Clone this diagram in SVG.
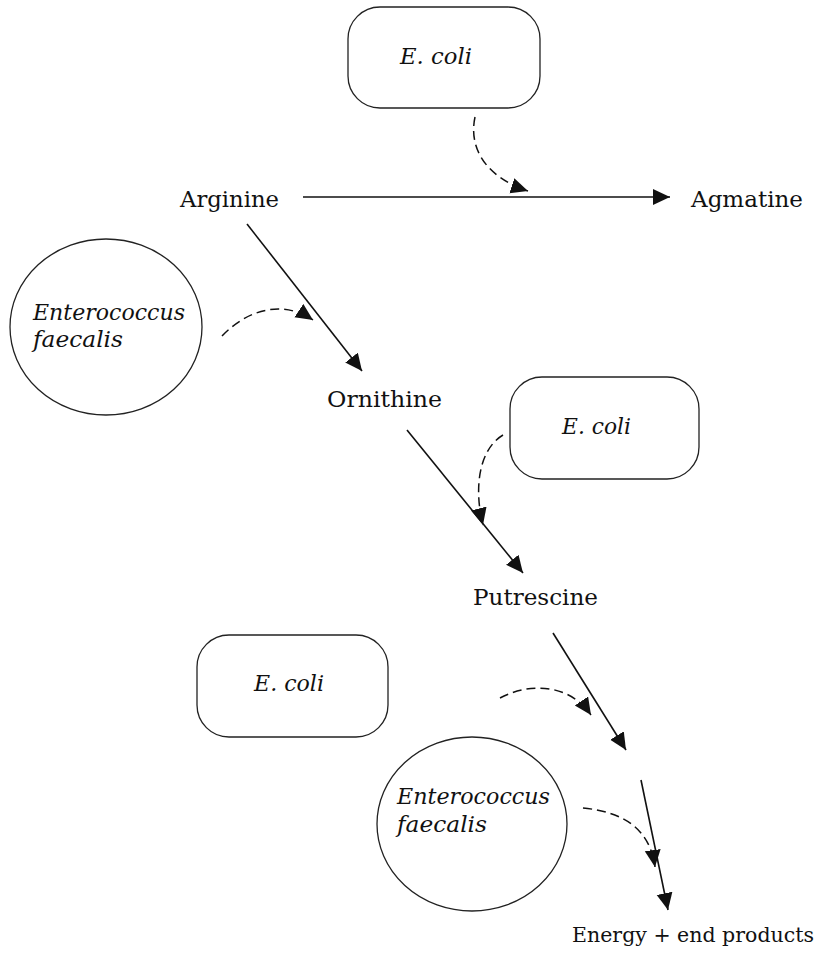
<svg xmlns="http://www.w3.org/2000/svg" width="822" height="954" viewBox="0 0 822 954">
<style>
.bg{fill:#fff}
.shape{fill:#fff;stroke:#222;stroke-width:1.3}
.t{font-family:"DejaVu Serif","Liberation Serif",serif;font-size:22.5px;fill:#111}
.i{font-style:italic}
.solid{fill:none;stroke:#111;stroke-width:1.6}
.dash{fill:none;stroke:#111;stroke-width:1.5;stroke-dasharray:9 5}
</style>
<defs>
<marker id="ah" markerUnits="userSpaceOnUse" markerWidth="20" markerHeight="18" refX="17" refY="8" orient="auto">
<path d="M0,0 L17,8 L0,16 Z" fill="#111"/>
</marker>
</defs>
<rect class="bg" x="0" y="0" width="822" height="954"/>
<g id="connectors">
<line class="solid" x1="303" y1="197" x2="670" y2="197" marker-end="url(#ah)"/>
<line class="solid" x1="247" y1="224" x2="362" y2="371" marker-end="url(#ah)"/>
<line class="solid" x1="407" y1="430" x2="523" y2="573" marker-end="url(#ah)"/>
<line class="solid" x1="553" y1="633" x2="626" y2="750" marker-end="url(#ah)"/>
<line class="solid" x1="641" y1="780" x2="668" y2="910" marker-end="url(#ah)"/>
<path class="dash" d="M475,117 C468,150 488,178 528,191" marker-end="url(#ah)"/>
<path class="dash" d="M222,336 C245,312 280,298 313,320" marker-end="url(#ah)"/>
<path class="dash" d="M503,435 C478,450 474,490 483,525" marker-end="url(#ah)"/>
<path class="dash" d="M500,698 C530,682 570,684 591,715" marker-end="url(#ah)"/>
<path class="dash" d="M583,808 C625,812 650,830 655,867" marker-end="url(#ah)"/>
</g>
<g id="ecoli-top">
<rect class="shape" x="348" y="7" width="192" height="101" rx="32"/>
<text class="t i" x="400" y="64" textLength="72" lengthAdjust="spacingAndGlyphs">E. coli</text>
</g>
<g id="arginine"><text class="t" x="180" y="207" textLength="99" lengthAdjust="spacingAndGlyphs">Arginine</text></g>
<g id="agmatine"><text class="t" x="691" y="207" textLength="112" lengthAdjust="spacingAndGlyphs">Agmatine</text></g>
<g id="efaecalis-top">
<ellipse class="shape" cx="106" cy="327" rx="96" ry="88"/>
<text class="t i" x="33" y="320" textLength="152" lengthAdjust="spacingAndGlyphs">Enterococcus</text>
<text class="t i" x="33" y="347" textLength="90" lengthAdjust="spacingAndGlyphs">faecalis</text>
</g>
<g id="ornithine"><text class="t" x="327" y="407" textLength="115" lengthAdjust="spacingAndGlyphs">Ornithine</text></g>
<g id="ecoli-mid">
<rect class="shape" x="510" y="377" width="189" height="102" rx="32"/>
<text class="t i" x="562" y="434" textLength="69" lengthAdjust="spacingAndGlyphs">E. coli</text>
</g>
<g id="putrescine"><text class="t" x="473" y="605" textLength="125" lengthAdjust="spacingAndGlyphs">Putrescine</text></g>
<g id="ecoli-bottom">
<rect class="shape" x="197" y="635" width="191" height="102" rx="32"/>
<text class="t i" x="254" y="691" textLength="70" lengthAdjust="spacingAndGlyphs">E. coli</text>
</g>
<g id="efaecalis-bottom">
<ellipse class="shape" cx="472" cy="824" rx="95" ry="87"/>
<text class="t i" x="397" y="804" textLength="153" lengthAdjust="spacingAndGlyphs">Enterococcus</text>
<text class="t i" x="397" y="832" textLength="90" lengthAdjust="spacingAndGlyphs">faecalis</text>
</g>
<g id="energy"><text class="t" x="572" y="942" font-size="21" style="font-size:21px" textLength="242" lengthAdjust="spacingAndGlyphs">Energy + end products</text></g>
</svg>
